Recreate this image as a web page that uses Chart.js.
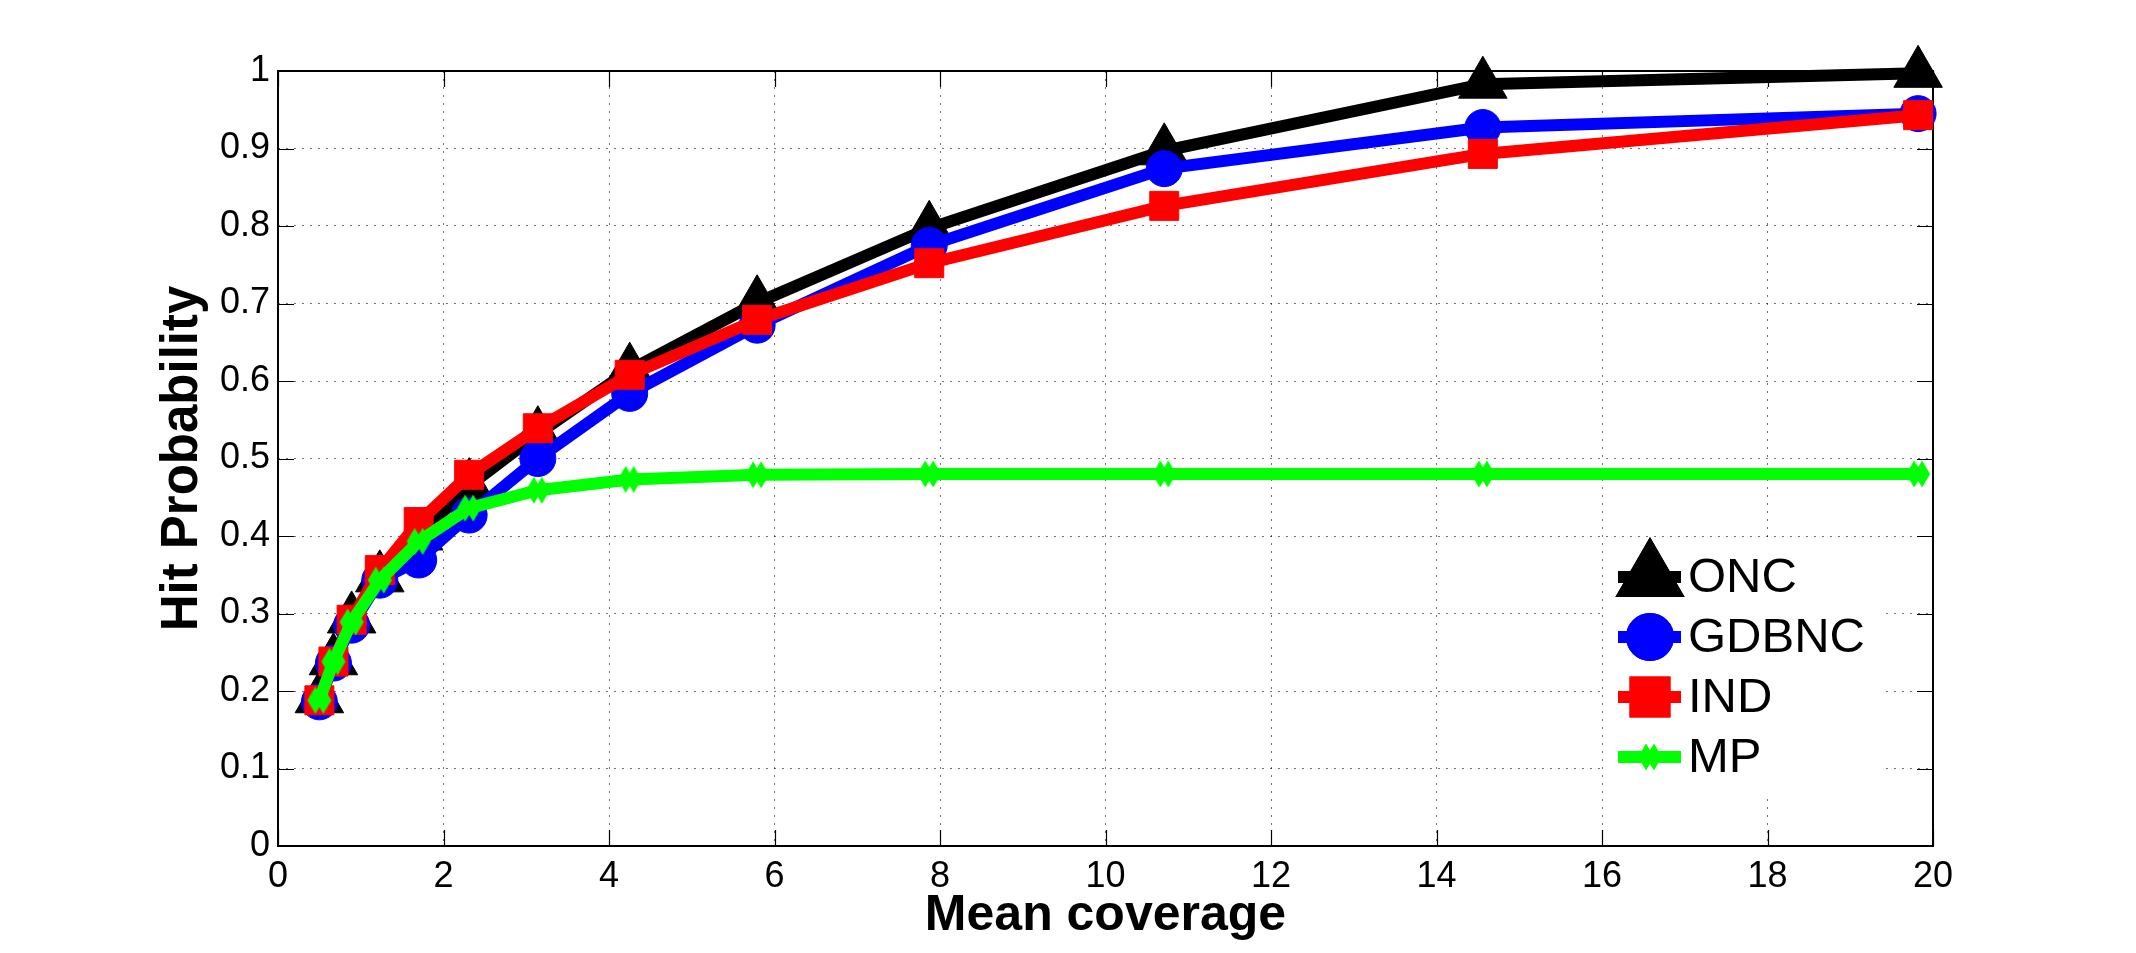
<!DOCTYPE html>
<html>
<head>
<meta charset="utf-8">
<script src="https://cdn.jsdelivr.net/npm/chart.js@4.4.1/dist/chart.umd.min.js"></script>
<style>
  html, body { margin: 0; padding: 0; background: #fff; }
  #wrap { width: 2136px; height: 953px; }
</style>
</head>
<body>
<div id="wrap"><canvas id="chart" width="2136" height="953"></canvas></div>
<script>
// values
const coverage = [0.5, 0.67, 0.89, 1.23, 1.70, 2.31, 3.14, 4.25, 5.79, 7.87, 10.71, 14.56, 19.82];
const onc   = [0.19, 0.239, 0.293, 0.346, 0.40, 0.465, 0.532, 0.614, 0.701, 0.797, 0.897, 0.983, 0.997];
const gdbnc = [0.186, 0.236, 0.285, 0.343, 0.369, 0.427, 0.500, 0.584, 0.672, 0.775, 0.874, 0.927, 0.945];
const ind   = [0.188, 0.238, 0.292, 0.356, 0.418, 0.479, 0.539, 0.608, 0.679, 0.752, 0.826, 0.893, 0.943];
const mp    = [0.188, 0.238, 0.289, 0.343, 0.393, 0.436, 0.459, 0.473, 0.479, 0.480, 0.480, 0.480, 0.480];
const seriesNames = ['ONC', 'GDBNC', 'IND', 'MP'];
const xTitle = 'Mean coverage';
const yTitle = 'Hit Probability';

const FONT = '"Liberation Sans", Arial, Helvetica, sans-serif';

// double diamond marker for MP
function doubleDiamond() {
  const c = document.createElement('canvas');
  c.width = 26; c.height = 28;
  const g = c.getContext('2d');
  g.fillStyle = '#00ff00';
  [9, 17].forEach(cx => {
    g.beginPath();
    g.moveTo(cx, 0.5);
    g.lineTo(cx + 8, 14);
    g.lineTo(cx, 27.5);
    g.lineTo(cx - 8, 14);
    g.closePath();
    g.fill();
  });
  return c;
}
const mpMarker = doubleDiamond();

const pts = arr => arr.map((v, i) => ({ x: coverage[i], y: v }));

const styles = [
  { color: '#000000', pointStyle: 'triangle', radius: 28 },
  { color: '#0000ff', pointStyle: 'circle', radius: 18 },
  { color: '#ff0000', pointStyle: 'rect', radius: 20.5 },
  { color: '#00ff00', pointStyle: mpMarker, radius: 12 }
];
const values = [onc, gdbnc, ind, mp];

const datasets = values.map((arr, i) => ({
  label: seriesNames[i],
  data: pts(arr),
  borderColor: styles[i].color,
  backgroundColor: styles[i].color,
  borderWidth: 12,
  pointStyle: styles[i].pointStyle,
  pointRadius: styles[i].radius,
  pointHoverRadius: styles[i].radius,
  pointBorderWidth: 1,
  pointBackgroundColor: styles[i].color,
  pointBorderColor: styles[i].color,
  tension: 0,
  clip: false,
  order: 3 - i
}));

// box + inward ticks like matlab
const boxPlugin = {
  id: 'box',
  beforeDatasetsDraw(chart) {
    const { ctx, chartArea: a, scales: { x, y } } = chart;
    ctx.save();
    ctx.strokeStyle = '#000';
    ctx.lineWidth = 1.2;
    const tl = 16;
    x.ticks.forEach(t => {
      const px = Math.round(x.getPixelForValue(t.value)) + 0.5;
      ctx.beginPath();
      ctx.moveTo(px, a.bottom); ctx.lineTo(px, a.bottom - tl);
      ctx.moveTo(px, a.top); ctx.lineTo(px, a.top + tl);
      ctx.stroke();
    });
    y.ticks.forEach(t => {
      const py = Math.round(y.getPixelForValue(t.value)) + 0.5;
      ctx.beginPath();
      ctx.moveTo(a.left, py); ctx.lineTo(a.left + tl, py);
      ctx.moveTo(a.right, py); ctx.lineTo(a.right - tl, py);
      ctx.stroke();
    });
    ctx.lineWidth = 2;
    ctx.strokeRect(a.left, a.top, a.right - a.left, a.bottom - a.top);
    ctx.restore();
  }
};

// legend drawn inside the axes, line + marker sample
const legendPlugin = {
  id: 'insideLegend',
  afterDraw(chart) {
    const { ctx } = chart;
    ctx.save();
    ctx.fillStyle = '#fff';
    ctx.fillRect(1603, 540, 280, 258);
    const rowY = [577, 637, 697, 757];
    chart.data.datasets.forEach((ds, i) => {
      const yy = rowY[i];
      ctx.strokeStyle = ds.borderColor;
      ctx.lineWidth = 12;
      ctx.beginPath();
      ctx.moveTo(1618, yy); ctx.lineTo(1681, yy);
      ctx.stroke();
      Chart.helpers.drawPoint(ctx, {
        pointStyle: ds.pointStyle,
        radius: ds.pointRadius,
        rotation: 0,
        borderWidth: 1
      }, 1650, yy);
      ctx.fillStyle = ds.backgroundColor;
      ctx.strokeStyle = ds.borderColor;
      if (typeof ds.pointStyle === 'string') {
        ctx.fill();
        ctx.stroke();
      }
      ctx.fillStyle = '#000';
      ctx.font = '49px ' + FONT;
      ctx.textBaseline = 'middle';
      ctx.textAlign = 'left';
      ctx.fillText(ds.label, 1688, yy + 1);
    });
    ctx.restore();
  }
};

const gridOpts = {
  drawTicks: false,
  color: 'rgba(0,0,0,0.55)',
  lineWidth: 1
};
const borderOpts = { display: false, dash: [2, 6] };

new Chart(document.getElementById('chart'), {
  type: 'line',
  data: { datasets },
  options: {
    responsive: false,
    animation: false,
    events: [],
    layout: { padding: { top: 71, right: 203, left: 0, bottom: 0 } },
    plugins: {
      legend: { display: false },
      tooltip: { enabled: false }
    },
    scales: {
      x: {
        type: 'linear',
        min: 0, max: 20,
        border: borderOpts,
        grid: gridOpts,
        ticks: {
          stepSize: 2,
          padding: 9,
          color: '#000',
          font: { family: FONT, size: 36 }
        },
        title: {
          display: true,
          text: xTitle,
          color: '#000',
          padding: { top: 0, bottom: 7 },
          font: { family: FONT, size: 50, weight: 'bold' }
        },
        afterFit(s) { s.height = 107; }
      },
      y: {
        type: 'linear',
        min: 0, max: 1,
        border: borderOpts,
        grid: gridOpts,
        ticks: {
          stepSize: 0.1,
          padding: 8,
          color: '#000',
          font: { family: FONT, size: 36 },
          callback: v => String(Number(v.toFixed(1)))
        },
        title: {
          display: true,
          text: yTitle,
          color: '#000',
          padding: { top: 152, bottom: 0 },
          font: { family: FONT, size: 51, weight: 'bold' }
        },
        afterFit(s) { s.width = 278; }
      }
    }
  },
  plugins: [boxPlugin, legendPlugin]
});
</script>
</body>
</html>
